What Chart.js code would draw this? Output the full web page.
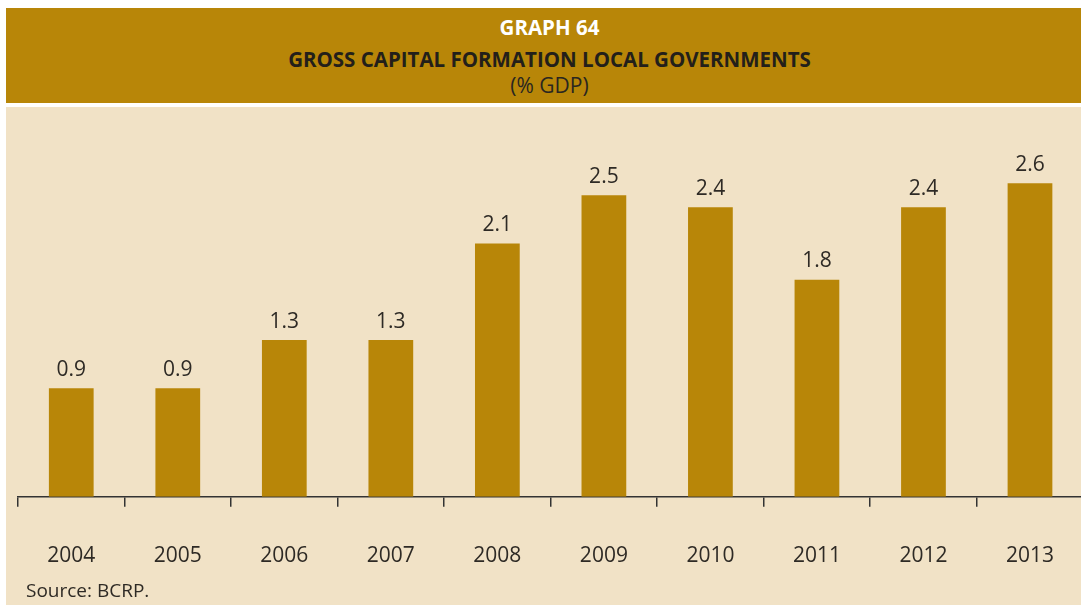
<!DOCTYPE html>
<html>
<head>
<meta charset="utf-8">
<script src="https://cdn.jsdelivr.net/npm/chart.js@4.4.1/dist/chart.umd.min.js"></script>
<style>
    html, body { margin: 0; padding: 0; background: #fff; }
    body { width: 1081px; height: 605px; position: relative; overflow: hidden; font-family: "Open Sans", "Noto Sans", sans-serif; }
    .header {
        position: absolute; left: 6px; top: 8px; width: 1075px; height: 95px;
        background: #B88608; text-align: center;
    }
    .header div { position: absolute; left: 12px; right: 0; line-height: 1.2; }
    .header .num { top: 7px; color: #fff; font-weight: 700; font-size: 20.5px; }
    .header .title { top: 39px; color: #231f1a; font-weight: 700; font-size: 20.5px; }
    .header .unit { top: 65px; color: #2a2620; font-size: 21px; }
    .panel { position: absolute; left: 6px; top: 107px; width: 1075px; height: 498px; background: #F1E2C6; overflow: hidden; }
    .source { position: absolute; left: 20px; top: 470px; font-size: 19px; color: #2e2a25; }
</style>
</head>
<body>
<div class="header">
    <div class="num">GRAPH 64</div>
    <div class="title">GROSS CAPITAL FORMATION LOCAL GOVERNMENTS</div>
    <div class="unit">(% GDP)</div>
</div>
<div class="panel">
    <canvas id="chart" width="1085" height="498"></canvas>
    <div class="source">Source: BCRP.</div>
</div>
<script>
// local government gross capital formation, % of GDP
const years = ['2004', '2005', '2006', '2007', '2008', '2009', '2010', '2011', '2012', '2013'];
const shareGdp = [0.9, 0.9, 1.3, 1.3, 2.1, 2.5, 2.4, 1.8, 2.4, 2.6];

const GOLD = '#B88608';
const INK = '#2e2a25';

// value labels above each bar
const barLabels = {
    id: 'barLabels',
    afterDatasetsDraw(chart) {
        const ctx = chart.ctx;
        const meta = chart.getDatasetMeta(0);
        ctx.save();
        ctx.font = '21px "Open Sans", "Noto Sans", sans-serif';
        ctx.fillStyle = INK;
        ctx.textAlign = 'center';
        ctx.textBaseline = 'bottom';
        meta.data.forEach((bar, i) => {
            ctx.fillText(shareGdp[i].toFixed(1), bar.x, bar.y - 8);
        });
        ctx.restore();
    }
};

new Chart(document.getElementById('chart'), {
    type: 'bar',
    data: {
        labels: years,
        datasets: [{
            data: shareGdp,
            backgroundColor: GOLD,
            borderWidth: 0,
            barPercentage: 0.42,
            categoryPercentage: 1
        }]
    },
    options: {
        responsive: false,
        animation: false,
        devicePixelRatio: 1,
        layout: { padding: { left: 12, right: 0, top: 28, bottom: -1 } },
        plugins: { legend: { display: false }, tooltip: { enabled: false } },
        scales: {
            y: { display: false, min: 0, max: 3 },
            x: {
                border: { display: true, color: '#333', width: 1.5 },
                grid: { display: true, drawOnChartArea: false, drawTicks: true, tickLength: 10, color: '#333', lineWidth: 1.5 },
                ticks: { color: INK, padding: 37, font: { family: '"Open Sans", "Noto Sans", sans-serif', size: 21 } }
            }
        }
    },
    plugins: [barLabels]
});
</script>
</body>
</html>
